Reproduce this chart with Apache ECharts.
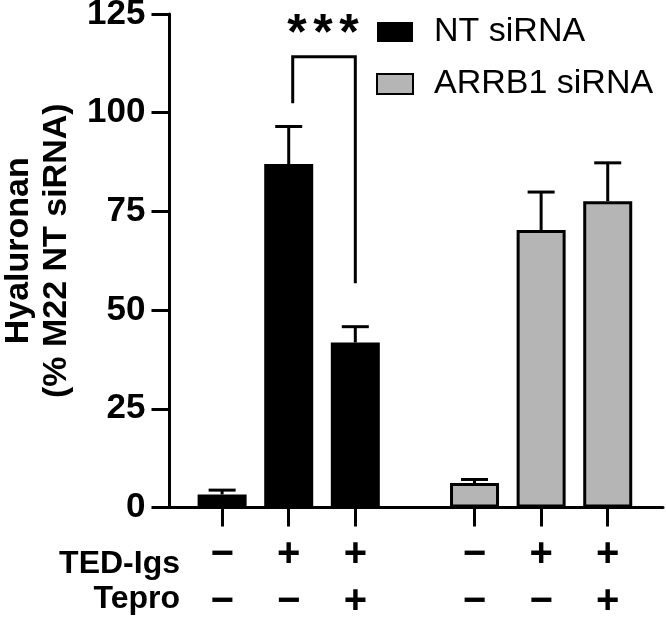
<!DOCTYPE html>
<html>
<head>
<meta charset="utf-8">
<script src="https://cdn.jsdelivr.net/npm/echarts@6/dist/echarts.min.js"></script>
<style>
html,body{margin:0;padding:0;background:#fff;}
#chart{width:666px;height:619px;}
</style>
</head>
<body>
<div id="chart"></div>
<script>
// ---- data ----
const seriesNames = ['NT siRNA', 'ARRB1 siRNA'];
const tedIgs = ['−', '+', '+', '−', '+', '+'];
const tepro  = ['−', '−', '+', '−', '−', '+'];
const ntMean    = [3.3, 87.0, 41.8];
const ntUpper   = [4.4, 96.5, 45.8];
const arrbMean  = [6.2, 70.3, 77.6];
const arrbUpper = [7.1, 79.9, 87.3];
const yTicks = [0, 25, 50, 75, 100, 125];
const sigFromIdx = 1, sigToIdx = 2;
const sigLevels = [102.4, 114.2, 56.8]; // left leg bottom, bracket top, right leg bottom
const sigStars = ['*', '*', '*'];
const rowTitles = ['TED-Igs', 'Tepro'];

// ---- layout (slot units on the x axis) ----
const lead = 0.79, groupStride = 3.79, xMax = 7.41;
const pos = [];
[0, 1].forEach(g => { for (let i = 0; i < 3; i++) pos.push(lead + g * groupStride + i); });

const FONT = 'Liberation Sans, Arial, sans-serif';

const ntData = ntMean.map((v, i) => [pos[i], v]);
const arrbData = arrbMean.map((v, i) => [pos[i + 3], v]);
const errData = ntMean.map((v, i) => [pos[i], v, ntUpper[i]])
  .concat(arrbMean.map((v, i) => [pos[i + 3], v, arrbUpper[i]]));
const sigData = [[pos[sigFromIdx], pos[sigToIdx], sigLevels[0], sigLevels[1], sigLevels[2]]];

function nearestIdx(v) {
  let b = 0, d = Infinity;
  pos.forEach((p, i) => { const dd = Math.abs(p - v); if (dd < d) { d = dd; b = i; } });
  return b;
}

const chart = echarts.init(document.getElementById('chart'), null, {renderer: 'canvas'});
chart.setOption({
  animation: false,
  backgroundColor: '#fff',
  textStyle: {fontFamily: FONT},
  grid: {left: 169.5, right: 3, top: 14, bottom: 111.5, containLabel: false, outerBoundsMode: 'none'},
  legend: {
    data: [
      {name: seriesNames[0], itemStyle: {borderWidth: 0}},
      {name: seriesNames[1]}
    ],
    orient: 'vertical', left: 371, top: 9,
    itemWidth: 36, itemHeight: 20, itemGap: 16,
    icon: 'rect',
    textStyle: {fontFamily: FONT, fontSize: 34, color: '#000', lineHeight: 36, padding: [0, 0, 0, 16]},
    selectedMode: false
  },
  xAxis: {
    type: 'value', min: 0, max: xMax,
    splitLine: {show: false},
    axisLine: {show: true, onZero: false, lineStyle: {color: '#000', width: 3}},
    axisTick: {show: true, customValues: pos, length: 19, lineStyle: {color: '#000', width: 3}},
    axisLabel: {
      show: true, customValues: pos, margin: 24,
      formatter: function (v) {
        const i = nearestIdx(v);
        return '{s|' + tedIgs[i] + '}\n{s|' + tepro[i] + '}';
      },
      rich: {s: {fontFamily: FONT, fontSize: 40, fontWeight: 'bold', color: '#000', lineHeight: 47, align: 'center'}}
    }
  },
  yAxis: {
    type: 'value', min: yTicks[0], max: yTicks[yTicks.length - 1], interval: 25,
    splitLine: {show: false},
    axisLine: {show: true, lineStyle: {color: '#000', width: 3}},
    axisTick: {show: true, length: 18, lineStyle: {color: '#000', width: 3}},
    axisLabel: {margin: 24, fontFamily: FONT, fontSize: 35, fontWeight: 'bold', color: '#000'},
    name: 'Hyaluronan\n(% M22 NT siRNA)',
    nameLocation: 'middle', nameRotate: 90, nameGap: 94,
    nameTextStyle: {fontFamily: FONT, fontSize: 34, fontWeight: 'bold', color: '#000', lineHeight: 38, padding: [0, 0, 0, 20]}
  },
  series: [
    {
      name: seriesNames[0], type: 'bar', data: ntData, barWidth: 49, barGap: '-100%',
      itemStyle: {color: '#000', borderColor: '#000', borderWidth: 3}, z: 2
    },
    {
      name: seriesNames[1], type: 'bar', data: arrbData, barWidth: 49, barGap: '-100%',
      itemStyle: {color: '#b5b5b5', borderColor: '#000', borderWidth: 3}, z: 2
    },
    {
      name: 'err', type: 'custom', data: errData, z: 3,
      encode: {x: 0, y: [1, 2]},
      renderItem: function (params, api) {
        const x = api.value(0), m = api.value(1), u = api.value(2);
        const p0 = api.coord([x, m]), p1 = api.coord([x, u]);
        const st = {stroke: '#000', lineWidth: 3, fill: null};
        return {type: 'group', children: [
          {type: 'line', shape: {x1: p0[0], y1: p0[1], x2: p1[0], y2: p1[1]}, style: st},
          {type: 'line', shape: {x1: p1[0] - 13.5, y1: p1[1], x2: p1[0] + 13.5, y2: p1[1]}, style: st}
        ]};
      }
    },
    {
      name: 'sig', type: 'custom', data: sigData, z: 4,
      encode: {x: [0, 1], y: [2, 3, 4]},
      renderItem: function (params, api) {
        const xa = api.value(0), xb = api.value(1);
        const a = api.coord([xa, api.value(2)]);
        const t1 = api.coord([xa, api.value(3)]);
        const t2 = api.coord([xb, api.value(3)]);
        const b = api.coord([xb, api.value(4)]);
        const cx = (t1[0] + t2[0]) / 2 + 1;
        const children = [
          {type: 'polyline', shape: {points: [[a[0] + 4, a[1]], [t1[0] + 4, t1[1]], [t2[0], t2[1]], [b[0], b[1]]]},
           style: {stroke: '#000', lineWidth: 3, fill: null, lineJoin: 'miter'}}
        ];
        sigStars.forEach((s, k) => {
          children.push({type: 'text', style: {text: s, x: cx + (k - 1) * 26, y: t1[1] - 21,
            align: 'center', verticalAlign: 'middle', fill: '#000', font: 'bold 50px ' + FONT}});
        });
        return {type: 'group', children: children};
      }
    }
  ],
  graphic: [
    {type: 'text', right: 666 - 180, top: 548, style: {text: rowTitles[0], font: 'bold 32px ' + FONT, fill: '#000'}},
    {type: 'text', right: 666 - 180, top: 583, style: {text: rowTitles[1], font: 'bold 32px ' + FONT, fill: '#000'}}
  ]
});
</script>
</body>
</html>
